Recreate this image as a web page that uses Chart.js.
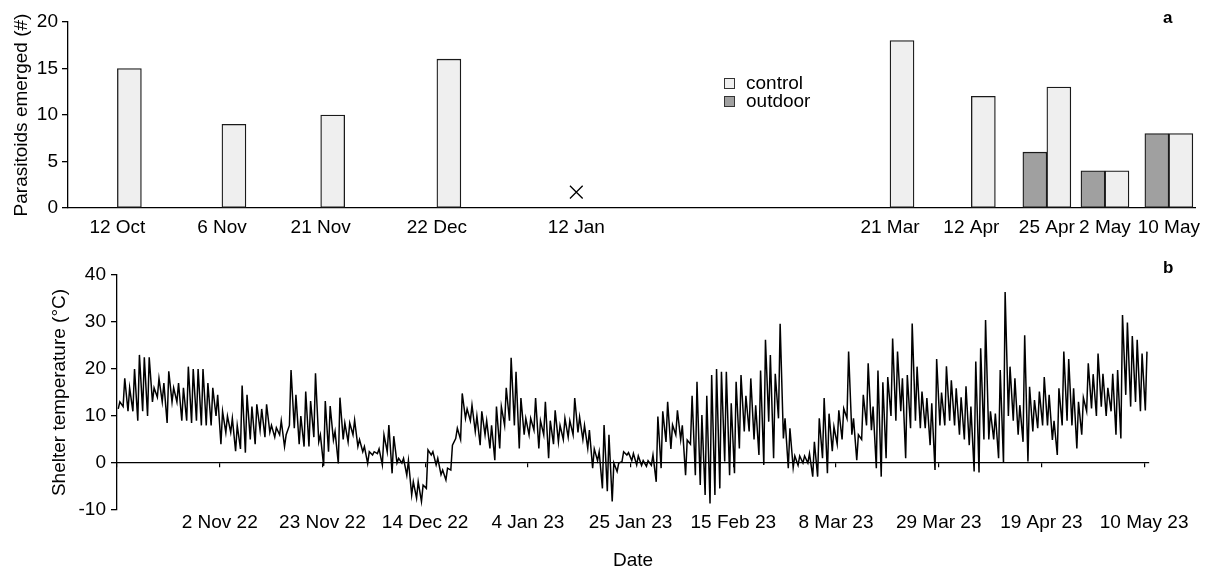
<!DOCTYPE html>
<html><head><meta charset="utf-8">
<script src="https://cdn.jsdelivr.net/npm/chart.js@4.4.1/dist/chart.umd.min.js"></script>
<style>
html,body{margin:0;padding:0;background:#fff;}
#wrap{position:relative;width:1213px;height:572px;overflow:hidden;font-family:"Liberation Sans",Arial,sans-serif;color:#000;}
canvas{position:absolute;left:0;}
#ca{top:0;width:1213px;height:245px;}
#cb{top:245px;width:1213px;height:327px;}
.panel{position:absolute;font-weight:bold;font-size:17px;line-height:17px;}
#legend{position:absolute;left:724px;top:74px;font-size:19px;line-height:18px;}
.item{display:flex;align-items:center;height:18px;white-space:nowrap;}
.sw{width:9px;height:9px;border:1px solid #333;margin-right:11px;flex:none;}
</style></head>
<body><div id="wrap">
<canvas id="ca" width="1213" height="245"></canvas>
<canvas id="cb" width="1213" height="327"></canvas>
<div class="panel" style="left:1163px;top:9px">a</div>
<div class="panel" style="left:1163px;top:259px">b</div>
<div id="legend"></div>
</div>
<script>
// ---------- Panel a data ----------
const sampleDates = ['12 Oct','6 Nov','21 Nov','22 Dec','12 Jan','21 Mar','12 Apr','25 Apr','2 May','10 May'];
const controlCounts = [15, 9, 10, 16, null, 18, 12, 13, 4, 8];
const outdoorCounts = [null, null, null, null, null, null, null, 6, 4, 8];
const lostSampleMarks = [null, null, null, null, 1.7, null, null, null, null, null];
const seriesNames = ['control', 'outdoor'];
const seriesFills = ['#efefef', '#a0a0a0'];
// category slot of each sample date on the panel-a axis (blank slots are spacers)
const sampleSlots = [8, 26, 43, 63, 87, 141, 155, 168, 178, 189];
const slotCount = 194;

// ---------- Panel b data (daily max / min shelter temperature, from 12 Oct 22) ----------
const dailyMax = [
 13, 18, 16, 20, 23, 22.5, 22.5, 16, 18, 17,
 19.5, 16, 17, 16, 20.5, 20, 20, 20, 17, 16,
 14.5, 11, 10, 9.5, 8, 16.5, 14.5, 12, 12.5, 11.5,
 12.5, 8, 7.5, 9, 6, 19.8, 14.5, 10, 15.2, 13.2,
 19.1, 6, 13.2, 12.1, 6.7, 13.9, 8.5, 8.5, 9.1, 5,
 3.5, 2.4, 2.4, 3, 6, 8.1, 5.7, 1, 1, 0.5,
 -4, -4, -4.7, 2.8, 2.4, 1, -1.5, -1.1, 3.8, 7.4,
 14.8, 11.5, 12.3, 10, 11, 9, 8, 12, 12, 16,
 22.4, 19.4, 13.8, 9.5, 9.5, 13.8, 9, 13, 9, 11.2,
 8, 9.5, 9, 13.8, 9.8, 8, 7, 3, 2.4, 8.1,
 6, 0, 0, 2.4, 2.2, 2, 1.5, 0.5, 0.5, 1.7,
 9.9, 11, 13, 8.1, 11.2, 8, 4.9, 14.3, 17.3, 10.2,
 14.3, 18.7, 20, 19.4, 19.4, 12.7, 17.3, 18.7, 14.3, 18,
 12.3, 19.7, 26.2, 23, 19, 29.6, 9.5, 7.4, 1.5, 1.5,
 1.5, 2, 4.5, 9.5, 13.8, 10.5, 7.7, 11.2, 11.6, 23.7,
 9.5, 6, 14.5, 21.2, 12, 19.7, 17.2, 18.3, 26.5, 23.7,
 18, 18.7, 29.7, 20.5, 15.2, 13.8, 12.7, 22.1, 15, 20.6,
 17.6, 15.9, 14, 16.3, 12, 21.6, 24.4, 30.4, 11, 10.5,
 19.8, 36.4, 20.5, 18, 12.3, 27.2, 16.2, 13.4, 15.2, 18.3,
 14.5, 9, 15.9, 23.7, 22.1, 15.9, 13, 13.9, 21.2, 18.9,
 23.3, 19, 16, 19, 19.8, 31.5, 29.9, 27, 26.2, 23.3,
 23.7
];
const dailyMin = [
 11.5, 12, 11, 11, 9, 11, 10, 13, 14, 13,
 8.5, 13, 13, 9, 9, 8.5, 9, 8, 8, 8,
 10, 4, 6.5, 6.5, 2.5, 3, 2.2, 5, 4, 7,
 5.5, 6.5, 5.5, 6, 3.5, 8, 7.4, 4, 3.5, 3.5,
 5.5, 4.5, -0.6, 2.4, 4.9, -0.1, 5, 4.5, 6, 3.5,
 2.4, -0.1, 1.7, 2, -0.4, 2.4, -2.2, 0, 0, -2.6,
 -6.8, -7.5, -8.2, -5.4, 1.7, -0.4, -2.5, -3.6, -1.5, 5.2,
 5, 9.5, 9, 6.7, 3.8, 6, 3.1, 0.6, 3.1, 8,
 9, 8, 3.1, 6, 6, 7, 3.1, 6, 1, 4,
 4.5, 5, 5.5, 6, 6.5, 5, 3.1, -1.1, 0.5, -5.4,
 -6, -8.2, -1.8, 0.3, 1.7, 0.5, -0.4, -0.5, -0.7, -0.5,
 -4, -1.1, 4.5, 3, 6, 5, -2.6, 4, -2.6, -4.7,
 -6.8, -8.6, -6.8, -5.4, 0.3, -2.6, -2.2, 3.1, 6.7, 6.7,
 5, 1.7, -0.4, 8.8, 1, 9.5, 5.2, -1.1, -1, -0.5,
 0, 0, -2.9, -2.9, 1, -2.2, 2.5, 4, 5, 9.5,
 6, 0.6, 5, 8, 7, -1.1, -2.9, 1, 10, 9,
 11, 1, 7.4, 9, 7.4, 7.4, 3.8, -1.5, 8, 8,
 9, 8, 6, 5, 3.8, -1.8, -2, 5, 5, 5,
 1, 0, 10, 9, 6, 4.5, 0.3, 6.7, 7.4, 8,
 8, 4.9, 1.7, 8, 9, 8, 3.1, 6, 11, 11.6,
 10, 12, 10, 11, 6, 5.2, 14.5, 12, 13, 11,
 11.2
];
const minHour = 6, maxHour = 14;
const tempTickDays = [0, 21, 42, 63, 84, 105, 126, 147, 168, 189, 210];
const tempTickLabels = ['', '2 Nov 22', '23 Nov 22', '14 Dec 22', '4 Jan 23', '25 Jan 23', '15 Feb 23', '8 Mar 23', '29 Mar 23', '19 Apr 23', '10 May 23'];
const tempRange = [0, 211];
const tempAxis = [-10, 40, 10];
const countAxis = [0, 20, 5];

// ---------- common ----------
Chart.defaults.font.family = '"Liberation Sans", Arial, Helvetica, sans-serif';
Chart.defaults.font.size = 19;
Chart.defaults.color = '#000';

// ---------- build panel a ----------
const slotLabels = Array(slotCount).fill('');
const slotControl = Array(slotCount).fill(null);
const slotOutdoor = Array(slotCount).fill(null);
const slotLost = Array(slotCount).fill(null);
sampleSlots.forEach((s, i) => {
  slotLabels[s] = sampleDates[i];
  slotControl[s] = controlCounts[i];
  slotOutdoor[s] = outdoorCounts[i];
  slotLost[s] = lostSampleMarks[i];
});

new Chart(document.getElementById('ca'), {
  type: 'bar',
  data: {
    labels: slotLabels,
    datasets: [
      {label: seriesNames[1], data: slotOutdoor, backgroundColor: seriesFills[1], borderColor: '#1a1a1a', borderWidth: 1.3, borderSkipped: false, barThickness: 24},
      {label: seriesNames[0], data: slotControl, backgroundColor: seriesFills[0], borderColor: '#1a1a1a', borderWidth: 1.3, borderSkipped: false, barThickness: 24},
      {type: 'line', label: 'lost', data: slotLost, showLine: false, pointStyle: 'crossRot', pointRadius: 9, pointBorderWidth: 1.3, pointBorderColor: '#000', borderColor: '#000', backgroundColor: 'transparent'}
    ]
  },
  options: {
    responsive: false, animation: false,
    layout: {padding: {top: 22, right: 18, left: 0, bottom: 0}},
    plugins: {legend: {display: false}, tooltip: {enabled: false}},
    scales: {
      x: {
        grid: {display: false, drawTicks: false},
        border: {display: true, color: '#000', width: 1.3},
        ticks: {autoSkip: false, maxRotation: 0, minRotation: 0, padding: 8, color: '#000'},
        afterFit: s => { s.height = 37; }
      },
      y: {
        min: countAxis[0], max: countAxis[1],
        ticks: {stepSize: countAxis[2], padding: 4, color: '#000'},
        grid: {drawOnChartArea: false, drawTicks: true, tickLength: 6, color: '#000', lineWidth: 1.3},
        border: {color: '#000', width: 1.3},
        title: {display: true, text: 'Parasitoids emerged (#)', color: '#000', padding: {top: 10, bottom: 0}},
        afterFit: s => { s.width = 68; }
      }
    }
  }
});

// legend (html text)
const leg = document.getElementById('legend');
seriesNames.forEach((n, i) => {
  const it = document.createElement('div'); it.className = 'item';
  const sw = document.createElement('span'); sw.className = 'sw'; sw.style.background = seriesFills[i];
  const tx = document.createElement('span'); tx.textContent = n;
  it.appendChild(sw); it.appendChild(tx); leg.appendChild(it);
});

// ---------- build panel b ----------
const tempPoints = [];
dailyMin.forEach((v, d) => {
  tempPoints.push({x: d + minHour / 24, y: v});
  tempPoints.push({x: d + maxHour / 24, y: dailyMax[d]});
});
const setDayTicks = s => { s.ticks = tempTickDays.map(v => ({value: v})); };

new Chart(document.getElementById('cb'), {
  type: 'line',
  data: {datasets: [{data: tempPoints, borderColor: '#000', borderWidth: 1.5, pointRadius: 0, tension: 0, fill: false}]},
  options: {
    responsive: false, animation: false,
    layout: {padding: {top: 30, right: 64, left: 0, bottom: 0}},
    plugins: {legend: {display: false}, tooltip: {enabled: false}},
    scales: {
      x: {
        type: 'linear', min: tempRange[0], max: tempRange[1],
        afterBuildTicks: setDayTicks,
        ticks: {callback: (v, i) => tempTickLabels[i], autoSkip: false, maxRotation: 0, minRotation: 0, padding: 1, color: '#000'},
        grid: {display: false, drawTicks: false},
        border: {display: false},
        title: {display: true, text: 'Date', color: '#000', padding: {top: 0, bottom: 0}},
        afterFit: s => { s.height = 62; }
      },
      x2: {
        axis: 'x', type: 'linear', position: {y: 0}, min: tempRange[0], max: tempRange[1],
        afterBuildTicks: setDayTicks,
        ticks: {display: false},
        grid: {drawOnChartArea: false, drawTicks: true, tickLength: 4, color: '#000', lineWidth: 1.2},
        border: {display: true, color: '#000', width: 1.3}
      },
      y: {
        min: tempAxis[0], max: tempAxis[1],
        ticks: {stepSize: tempAxis[2], padding: 5, color: '#000'},
        grid: {drawOnChartArea: false, drawTicks: true, tickLength: 6, color: '#000', lineWidth: 1.3},
        border: {color: '#000', width: 1.3},
        title: {display: true, text: 'Shelter temperature (°C)', color: '#000', padding: {top: 48, bottom: 0}},
        afterFit: s => { s.width = 117; }
      }
    }
  }
});
</script>
</body></html>
